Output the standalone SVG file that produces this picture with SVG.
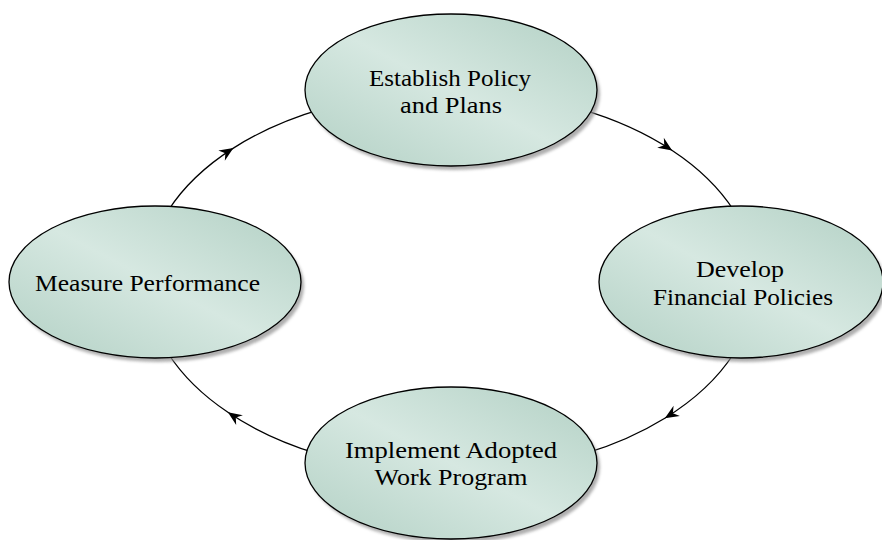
<svg xmlns="http://www.w3.org/2000/svg" width="882" height="540" viewBox="0 0 882 540">
<defs>
<linearGradient id="g" x1="1" y1="0" x2="0" y2="1">
<stop offset="0" stop-color="#b2d0c4"/>
<stop offset="0.5" stop-color="#d6e8e1"/>
<stop offset="1" stop-color="#b2d0c4"/>
</linearGradient>
<filter id="blur" x="-10%" y="-10%" width="120%" height="130%"><feGaussianBlur stdDeviation="1.5"/></filter>
<marker id="arr" markerUnits="userSpaceOnUse" markerWidth="16" markerHeight="14" viewBox="-15 -7 16 14" refX="0" refY="0" orient="auto">
<path d="M0,0 L-14,-6 L-9.5,0 L-14,6 Z" fill="#000"/>
</marker>
</defs>
<style>
.node{fill:url(#g);stroke:#000;stroke-width:1.3}
.shadow{fill:#8c8c8c;opacity:0.7;filter:url(#blur)}
.conn{fill:none;stroke:#000;stroke-width:1.3;marker-mid:url(#arr)}
text{font-family:'Liberation Serif','Times New Roman',serif;font-size:23px;fill:#000;text-anchor:middle}
</style>
<rect width="882" height="540" fill="#fff"/>
<g id="connectors">
<path class="conn" d="M579.9,108.9 A305,191 0 0 1 672.2,150.5 A305,191 0 0 1 733.8,210.5"/>
<path class="conn" d="M733.8,353.5 A305,191 0 0 1 664.8,418.2 A305,191 0 0 1 584.7,453.7"/>
<path class="conn" d="M317.3,453.7 A305,191 0 0 1 227.9,412.3 A305,191 0 0 1 168.2,353.5"/>
<path class="conn" d="M168.2,210.5 A305,191 0 0 1 233.4,148.1 A305,191 0 0 1 322.1,108.9"/>
</g>
<g id="establish">
<ellipse class="shadow" cx="454" cy="94" rx="146" ry="76"/>
<ellipse class="node" cx="451" cy="90" rx="146" ry="76"/>
<text x="450" y="86" textLength="162" lengthAdjust="spacingAndGlyphs">Establish Policy</text>
<text x="451" y="113" textLength="102" lengthAdjust="spacingAndGlyphs">and Plans</text>
</g>
<g id="develop">
<ellipse class="shadow" cx="744" cy="286" rx="142" ry="76"/>
<ellipse class="node" cx="741" cy="282" rx="142" ry="76"/>
<text x="740" y="277" textLength="88" lengthAdjust="spacingAndGlyphs">Develop</text>
<text x="743" y="305" textLength="180" lengthAdjust="spacingAndGlyphs">Financial Policies</text>
</g>
<g id="implement">
<ellipse class="shadow" cx="454" cy="467" rx="146" ry="76"/>
<ellipse class="node" cx="451" cy="463" rx="146" ry="76"/>
<text x="451" y="458" textLength="212" lengthAdjust="spacingAndGlyphs">Implement Adopted</text>
<text x="451" y="485" textLength="153" lengthAdjust="spacingAndGlyphs">Work Program</text>
</g>
<g id="measure">
<ellipse class="shadow" cx="158" cy="286" rx="146" ry="76"/>
<ellipse class="node" cx="155" cy="282" rx="146" ry="76"/>
<text x="147.5" y="291" textLength="225" lengthAdjust="spacingAndGlyphs">Measure Performance</text>
</g>
</svg>
